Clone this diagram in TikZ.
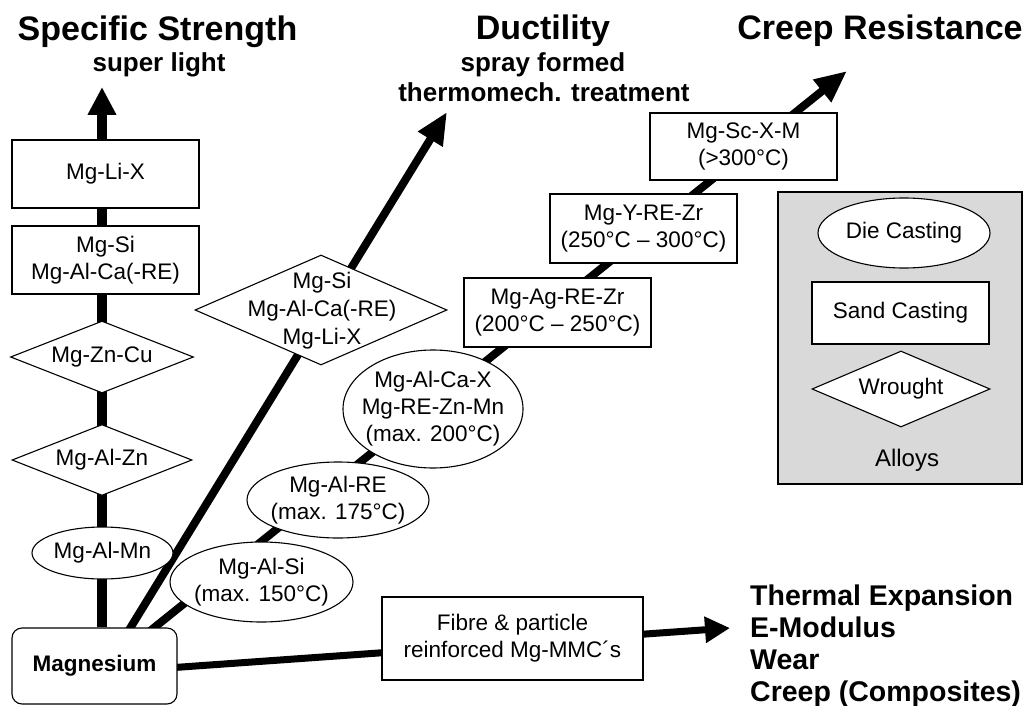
\documentclass[tikz,border=0pt]{standalone}
\usepackage{fontspec}
\setmainfont{Liberation Sans}
\usetikzlibrary{shapes.geometric,arrows.meta,backgrounds}
\begin{document}
\begin{tikzpicture}[x=1pt,y=-1pt,
  nfont/.style={font=\fontsize{22.5}{27}\selectfont},
  bx/.style={draw, line width=1.1pt, fill=white, inner sep=0pt, nfont, align=center},
  ell/.style={ellipse, draw, line width=1.1pt, fill=white, inner sep=0pt},
  dia/.style={diamond, draw, line width=1.1pt, fill=white, inner sep=0pt},
  lbl/.style={nfont, align=center, inner sep=0pt},
  ttl/.style={font=\bfseries\fontsize{34}{40}\selectfont, inner sep=0pt, anchor=base},
  sub/.style={font=\bfseries\fontsize{26}{30}\selectfont, inner sep=0pt, anchor=base},
  prop/.style={font=\bfseries\fontsize{28.5}{32}\selectfont, inner sep=0pt, anchor=base west},
  conn/.style={line width=8pt}
]
\useasboundingbox (0,0) rectangle (1027,706);

% titles
\node[ttl] (tspec) at (157.5,41) {Specific Strength};
\node[sub] (tsuper) at (159,72) {super light};
\node[ttl] (tduct) at (543,40) {Ductility};
\node[sub] (tspray) at (543,72) {spray formed};
\node[sub] (tthermo) at (544,102) {thermomech. treatment};
\node[ttl] (tcreep) at (880,40) {Creep Resistance};

% end points of the arrows
\coordinate (vend) at (102,87);
\coordinate (dend) at (447,112);
\coordinate (cend) at (847,71);
\coordinate (mend) at (730,628);

% left column
\node[bx, minimum width=187pt, minimum height=68pt] (mgli) at (105.5,174) {Mg-Li-X};
\node[bx, minimum width=187pt, minimum height=68pt] (mgsi) at (105.5,260) {Mg-Si\\Mg-Al-Ca(-RE)};
\node[dia, minimum width=183pt, minimum height=72pt] (mgzncu) at (102,357) {};
\node[lbl] (mgzncut) at (mgzncu) {Mg-Zn-Cu};
\node[dia, minimum width=180pt, minimum height=71pt] (mgalzn) at (102,460) {};
\node[lbl] (mgalznt) at (mgalzn) {Mg-Al-Zn};
\node[ell, minimum width=141pt, minimum height=52pt] (mgalmn) at (102.5,553) {};
\node[lbl] (mgalmnt) at (mgalmn) {Mg-Al-Mn};
\node[draw, rounded corners=10pt, line width=1.1pt, fill=white, minimum width=165pt, minimum height=76pt, inner sep=0pt,
  font=\bfseries\fontsize{22.5}{27}\selectfont] (mag) at (94.5,666) {Magnesium};

% ductility
\node[dia, minimum width=252pt, minimum height=110pt] (ducd) at (321,310) {};
\node[lbl, font=\fontsize{22.5}{28}\selectfont] (ducdt) at (322,311) {Mg-Si\\Mg-Al-Ca(-RE)\\Mg-Li-X};

% creep resistance
\node[ell, minimum width=183pt, minimum height=80pt] (mgalsi) at (261.5,582) {};
\node[lbl] (mgalsit) at (mgalsi) {Mg-Al-Si\\(max. 150°C)};
\node[ell, minimum width=182pt, minimum height=76pt] (mgalre) at (338,500) {};
\node[lbl] (mgalret) at (mgalre) {Mg-Al-RE\\(max. 175°C)};
\node[ell, minimum width=180pt, minimum height=118pt] (mgalca) at (433,409) {};
\node[lbl] (mgalcat) at (mgalca) {Mg-Al-Ca-X\\Mg-RE-Zn-Mn\\(max. 200°C)};
\node[bx, minimum width=187pt, minimum height=69pt] (mgag) at (557.5,312.5) {Mg-Ag-RE-Zr\\(200°C – 250°C)};
\node[bx, minimum width=187pt, minimum height=69pt] (mgy) at (643.5,228.5) {Mg-Y-RE-Zr\\(250°C – 300°C)};
\node[bx, minimum width=187pt, minimum height=67pt] (mgsc) at (743.5,146.5) {Mg-Sc-X-M\\(>300°C)};

% composites
\node[bx, minimum width=261pt, minimum height=83pt] (mmc) at (512.5,638.5) {Fibre \& particle\\reinforced Mg-MMC´s};
\node[prop] (p1) at (750,605) {Thermal Expansion};
\node[prop] (p2) at (750,637) {E-Modulus};
\node[prop] (p3) at (750,669) {Wear};
\node[prop] (p4) at (750,701) {Creep (Composites)};

% legend
\node[draw, line width=1.5pt, fill=gray!30, minimum width=244pt, minimum height=292pt, inner sep=0pt] (legend) at (900,338) {};
\node[ell, minimum width=172pt, minimum height=70pt] (die) at (904,233) {};
\node[lbl] (diet) at (die) {Die Casting};
\node[bx, minimum width=177pt, minimum height=62pt] (sand) at (900.5,313) {Sand Casting};
\node[dia, minimum width=178pt, minimum height=76pt] (wrought) at (901,389) {};
\node[lbl] (wroughtt) at (wrought) {Wrought};
\node[font=\fontsize{24}{28}\selectfont, inner sep=0pt] (alloys) at (907,460) {Alloys};

% connectors
\begin{pgfonlayer}{background}
\draw[line width=10pt, -{Triangle[length=28pt,width=27pt]}] (mag.north -| vend) -- (vend);
\draw[conn, -{Triangle[length=32pt,width=27pt]}] ([xshift=113pt,yshift=-10pt]mag.north west) -- (dend);
\draw[conn, -{Triangle[length=32pt,width=27pt]}] ([xshift=130.5pt,yshift=-10pt]mag.north west) -- (cend);
\draw[line width=7pt, -{Triangle[length=25pt,width=25pt]}] ([xshift=-10pt,yshift=-2pt]mag.east) -- (mend);
\end{pgfonlayer}
\end{tikzpicture}
\end{document}
